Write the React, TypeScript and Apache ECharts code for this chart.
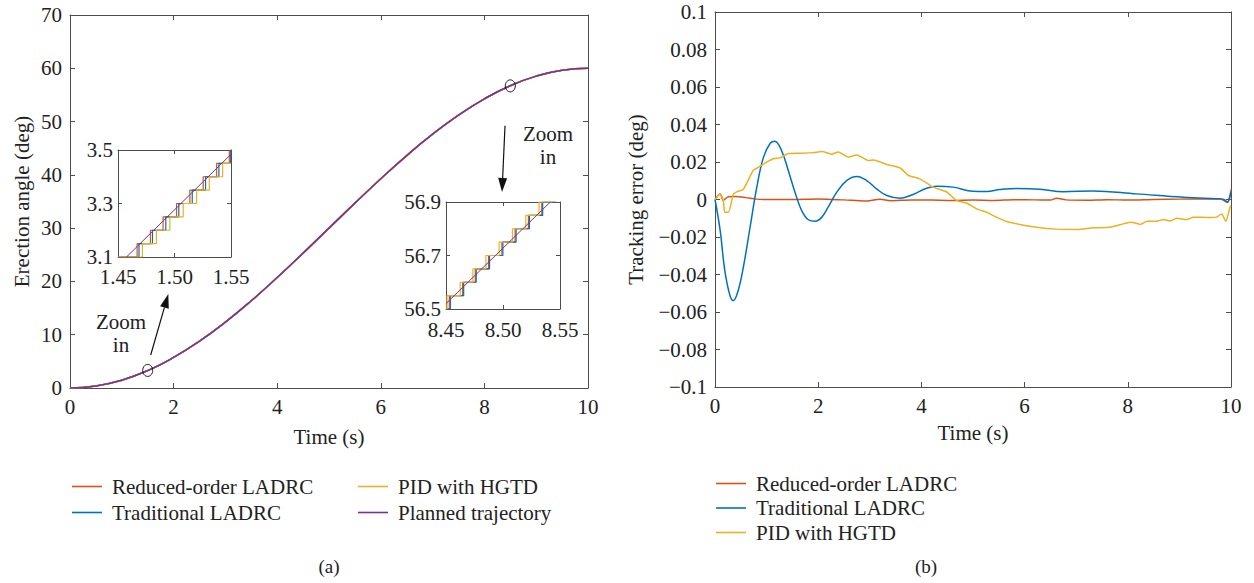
import React, { useEffect, useRef } from 'react';
import * as echarts from 'echarts';

const FONT = '"Liberation Serif", "DejaVu Serif", serif';
const AX = '#4d4d4d';
const TXT = '#222';
const FS = 21;

const C_RED = '#D95319';
const C_BLUE = '#0072BD';
const C_YEL = '#EDB120';
const C_PUR = '#7E2F8E';

const NAMES = ['Reduced-order LADRC', 'Traditional LADRC', 'PID with HGTD', 'Planned trajectory'];

// Main angle plot
const mainTime = [0, 0.5, 1, 1.5, 2, 2.5, 3, 3.5, 4, 4.5, 5, 5.5, 6, 6.5, 7, 7.5, 8, 8.5, 9, 9.5, 10];
const plannedAngle = [0, 0.37, 1.47, 3.27, 5.73, 8.79, 12.37, 16.38, 20.73, 25.31, 30, 34.69, 39.27, 43.62, 47.63, 51.21, 54.27, 56.73, 58.53, 59.63, 60];
const reducedAngle = [0, 0.37, 1.47, 3.27, 5.73, 8.79, 12.37, 16.38, 20.73, 25.31, 30, 34.69, 39.27, 43.62, 47.63, 51.21, 54.27, 56.73, 58.53, 59.63, 60];
const traditionalAngle = [0, 0.37, 1.47, 3.27, 5.73, 8.79, 12.37, 16.38, 20.73, 25.31, 30, 34.69, 39.27, 43.62, 47.63, 51.21, 54.27, 56.73, 58.53, 59.63, 60];
const pidAngle = [0, 0.37, 1.47, 3.27, 5.73, 8.79, 12.37, 16.38, 20.73, 25.31, 30, 34.69, 39.27, 43.62, 47.63, 51.21, 54.27, 56.73, 58.53, 59.63, 60];

const mainXTicks = [0, 2, 4, 6, 8, 10];
const mainYTicks = [0, 10, 20, 30, 40, 50, 60, 70];

// Inset 1 (t 1.45-1.55)
const inset1XTicks = [1.45, 1.5, 1.55];
const inset1YTicks = [3.1, 3.3, 3.5];
const inset1Reduced = [[1.45, 3.1], [1.4669, 3.15], [1.4787, 3.2], [1.4899, 3.25], [1.5018, 3.3], [1.5136, 3.35], [1.5254, 3.4], [1.5373, 3.45], [1.5485, 3.5], [1.55, 3.5]];
const inset1Traditional = [[1.45, 3.1], [1.4686, 3.15], [1.4805, 3.2], [1.4923, 3.25], [1.5038, 3.3], [1.5157, 3.35], [1.5275, 3.4], [1.5393, 3.45], [1.5497, 3.5], [1.55, 3.5]];
const inset1Pid = [[1.45, 3.1], [1.4716, 3.15], [1.484, 3.2], [1.4959, 3.25], [1.5077, 3.3], [1.5195, 3.35], [1.5308, 3.4], [1.5426, 3.45], [1.55, 3.45]];
const inset1Planned = [[1.4575, 3.1], [1.55, 3.484]];

// Inset 2 (t 8.45-8.55)
const inset2XTicks = [8.45, 8.5, 8.55];
const inset2YTicks = [56.5, 56.7, 56.9];
const inset2Reduced = [[8.45, 56.5], [8.4529, 56.55], [8.4646, 56.6], [8.4757, 56.65], [8.4873, 56.7], [8.499, 56.75], [8.5106, 56.8], [8.5223, 56.85], [8.534, 56.9], [8.5457, 56.9]];
const inset2Traditional = [[8.45, 56.5], [8.4538, 56.55], [8.4655, 56.6], [8.4765, 56.65], [8.4882, 56.7], [8.4999, 56.75], [8.5115, 56.8], [8.5232, 56.85], [8.5348, 56.9], [8.5465, 56.9]];
const inset2Pid = [[8.45, 56.5], [8.4509, 56.55], [8.4625, 56.6], [8.4736, 56.65], [8.485, 56.7], [8.4966, 56.75], [8.5083, 56.8], [8.52, 56.85], [8.5316, 56.9], [8.5427, 56.9]];
const inset2Planned = [[8.45, 56.52], [8.5415, 56.9]];

// Tracking error plot
const errXTicks = [0, 2, 4, 6, 8, 10];
const errYTicks = [-0.1, -0.08, -0.06, -0.04, -0.02, 0, 0.02, 0.04, 0.06, 0.08, 0.1];
const reducedErr = [[0, 0], [0.1, 0.003], [0.16, -0.0005], [0.26, 0.0015], [0.4, 0.0016], [0.6, 0.001], [0.8, 0.0002], [1.0, 0], [1.5, 0], [2.0, 0.0003], [2.5, -0.0002], [2.9, -0.0008], [3.2, 0.0001], [3.4, -0.0006], [3.8, -0.0002], [4.2, -0.0003], [4.6, -0.0005], [5.0, -0.0003], [5.4, -0.0005], [5.8, -0.0001], [6.2, -0.0002], [6.5, -0.0003], [6.62, 0.0007], [6.8, -0.0002], [7.2, -0.0004], [7.6, -0.0001], [8.0, -0.0003], [8.5, 0], [9.0, 0.0002], [9.5, 0.0003], [9.8, 0.0002], [9.93, -0.0015], [9.97, 0.0005], [10, 0.0053]];
const traditionalErr = [[0, 0], [0.1, -0.0165], [0.19, -0.0379], [0.29, -0.0512], [0.355, -0.0539], [0.45, -0.0485], [0.55, -0.036], [0.68, -0.0148], [0.81, 0.0066], [0.94, 0.0226], [1.07, 0.03], [1.16, 0.0311], [1.29, 0.0261], [1.42, 0.0155], [1.55, 0.0039], [1.68, -0.0059], [1.81, -0.0108], [1.94, -0.0116], [2.07, -0.0094], [2.2, -0.0037], [2.36, 0.0039], [2.55, 0.0101], [2.75, 0.0123], [2.94, 0.0101], [3.13, 0.0057], [3.33, 0.0021], [3.59, 0.0007], [3.84, 0.0027], [4.1, 0.006], [4.3, 0.0071], [4.62, 0.0066], [5.0, 0.0044], [5.27, 0.0043], [5.52, 0.0053], [5.85, 0.0059], [6.3, 0.0055], [6.75, 0.0041], [7.33, 0.0046], [8.17, 0.003], [9.08, 0.0012], [9.72, 0.0004], [9.85, 0.0002], [9.93, -0.0014], [9.97, 0.001], [10, 0.004]];
const pidErr = [[0, 0], [0.1, 0.003], [0.16, -0.0005], [0.19, -0.0068], [0.26, -0.0068], [0.355, 0.0028], [0.42, 0.0041], [0.55, 0.0055], [0.74, 0.0155], [0.84, 0.0171], [1.0, 0.0199], [1.13, 0.0217], [1.26, 0.0222], [1.42, 0.0245], [1.65, 0.0247], [1.9, 0.025], [2.07, 0.0256], [2.26, 0.0242], [2.39, 0.0254], [2.58, 0.0226], [2.75, 0.0238], [2.97, 0.0208], [3.07, 0.0211], [3.33, 0.0187], [3.59, 0.0168], [3.75, 0.0128], [3.97, 0.011], [4.23, 0.0066], [4.49, 0.004], [4.68, -0.0005], [4.88, -0.002], [5.07, -0.005], [5.27, -0.0068], [5.39, -0.0086], [5.65, -0.0117], [5.91, -0.0133], [6.23, -0.0148], [6.62, -0.0158], [7.01, -0.016], [7.33, -0.0151], [7.65, -0.0148], [7.91, -0.013], [8.07, -0.0121], [8.24, -0.0133], [8.37, -0.0116], [8.56, -0.0116], [8.69, -0.0107], [8.82, -0.0114], [8.95, -0.01], [9.14, -0.0107], [9.27, -0.0094], [9.59, -0.0096], [9.72, -0.0094], [9.82, -0.0077], [9.9, -0.0117], [9.98, -0.0041], [10, -0.0032]];

const textStyle = { fontFamily: FONT, fontSize: FS, color: TXT };

function fmtErr(v: number) {
  const r = Math.round(v * 100) / 100;
  if (r === 0) return '0';
  return (r < 0 ? '\u2212' : '') + String(Math.abs(r));
}

function xPair(grid: number, min: number, max: number, ticks: number[], fmt: (v: number) => string, tickLen: number, margin: number, name?: string, nameGap?: number) {
  const base = {
    gridIndex: grid,
    type: 'value',
    min,
    max,
    z: 3,
    splitLine: { show: false },
    axisLine: { show: true, onZero: false, lineStyle: { color: AX, width: 1 } },
    axisTick: { show: true, inside: true, length: tickLen, customValues: ticks, lineStyle: { color: AX, width: 1 } },
  };
  return [
    {
      ...base,
      position: 'bottom',
      axisLabel: { show: true, customValues: ticks, formatter: fmt, margin, ...textStyle },
      name,
      nameLocation: 'middle',
      nameGap,
      nameTextStyle: textStyle,
    },
    { ...base, position: 'top', axisLabel: { show: false } },
  ];
}

function yPair(grid: number, min: number, max: number, ticks: number[], fmt: (v: number) => string, tickLen: number, margin: number, name?: string, nameGap?: number) {
  const base = {
    gridIndex: grid,
    type: 'value',
    min,
    max,
    z: 3,
    splitLine: { show: false },
    axisLine: { show: true, onZero: false, lineStyle: { color: AX, width: 1 } },
    axisTick: { show: true, inside: true, length: tickLen, customValues: ticks, lineStyle: { color: AX, width: 1 } },
  };
  return [
    {
      ...base,
      position: 'left',
      axisLabel: { show: true, customValues: ticks, formatter: fmt, margin, ...textStyle },
      name,
      nameLocation: 'middle',
      nameGap,
      nameRotate: 90,
      nameTextStyle: textStyle,
    },
    { ...base, position: 'right', axisLabel: { show: false } },
  ];
}

function lineSeries(name: string, color: string, xi: number, data: any, opts: any = {}) {
  return {
    type: 'line',
    name,
    xAxisIndex: xi,
    yAxisIndex: xi,
    data,
    symbol: 'none',
    showSymbol: false,
    lineStyle: { color, width: 1.5 },
    itemStyle: { color },
    emphasis: { disabled: true },
    ...opts,
  };
}

const zip = (xs: number[], ys: number[]) => xs.map((x, i) => [x, ys[i]]);

export default function App() {
  const ref = useRef<HTMLDivElement>(null);
  useEffect(() => {
    const chart = echarts.init(ref.current!, null, { renderer: 'svg' });
    const legendBase = {
      orient: 'vertical',
      icon: 'rect',
      itemWidth: 30,
      itemHeight: 1.6,
      padding: 0,
      selectedMode: false,
      textStyle: { ...textStyle, lineHeight: 20, padding: [0, 0, 0, 5] },
    };
    const option: any = {
      animation: false,
      backgroundColor: '#fff',
      grid: [
        { left: 70, top: 15, width: 518, height: 373 },
        { left: 118, top: 150, width: 113, height: 107 },
        { left: 446, top: 202, width: 114, height: 107 },
        { left: 715, top: 12, width: 516, height: 375 },
      ],
      xAxis: [
        ...xPair(0, 0, 10, mainXTicks, (v) => String(v), 5, 8, 'Time (s)', 38),
        ...xPair(1, 1.45, 1.55, inset1XTicks, (v) => v.toFixed(2), 4, 9),
        ...xPair(2, 8.45, 8.55, inset2XTicks, (v) => v.toFixed(2), 4, 10),
        ...xPair(3, 0, 10, errXTicks, (v) => String(v), 5, 8, 'Time (s)', 35),
      ],
      yAxis: [
        ...yPair(0, 0, 70, mainYTicks, (v) => String(v), 5, 8, 'Erection angle (deg)', 38),
        ...yPair(1, 3.1, 3.5, inset1YTicks, (v) => v.toFixed(1), 4, 5),
        ...yPair(2, 56.5, 56.9, inset2YTicks, (v) => v.toFixed(1), 4, 5),
        ...yPair(3, -0.1, 0.1, errYTicks, fmtErr, 5, 8, 'Tracking error (deg)', 69),
      ],
      legend: [
        { ...legendBase, left: 72, top: 476, itemGap: 5, data: [NAMES[0], NAMES[1]] },
        { ...legendBase, left: 358, top: 476, itemGap: 5, data: [NAMES[2], NAMES[3]] },
        { ...legendBase, left: 716, top: 473, itemGap: 3.5, data: [NAMES[0], NAMES[1], NAMES[2]] },
      ],
      series: [
        lineSeries(NAMES[0], C_RED, 0, zip(mainTime, reducedAngle), { smooth: true }),
        lineSeries(NAMES[1], C_BLUE, 0, zip(mainTime, traditionalAngle), { smooth: true }),
        lineSeries(NAMES[2], C_YEL, 0, zip(mainTime, pidAngle), { smooth: true }),
        lineSeries(NAMES[3], C_PUR, 0, zip(mainTime, plannedAngle), { smooth: true }),

        lineSeries(NAMES[0], C_RED, 2, inset1Reduced, { step: 'end', lineStyle: { color: C_RED, width: 1.2 } }),
        lineSeries(NAMES[1], C_BLUE, 2, inset1Traditional, { step: 'end', lineStyle: { color: C_BLUE, width: 1.2 } }),
        lineSeries(NAMES[2], C_YEL, 2, inset1Pid, { step: 'end', lineStyle: { color: C_YEL, width: 1.2 } }),
        lineSeries(NAMES[3], C_PUR, 2, inset1Planned, { lineStyle: { color: C_PUR, width: 1 } }),

        lineSeries(NAMES[0], C_RED, 4, inset2Reduced, { step: 'end', lineStyle: { color: C_RED, width: 1.2 } }),
        lineSeries(NAMES[1], C_BLUE, 4, inset2Traditional, { step: 'end', lineStyle: { color: C_BLUE, width: 1.2 } }),
        lineSeries(NAMES[2], C_YEL, 4, inset2Pid, { step: 'end', lineStyle: { color: C_YEL, width: 1.2 } }),
        lineSeries(NAMES[3], C_PUR, 4, inset2Planned, { lineStyle: { color: C_PUR, width: 1 } }),

        lineSeries(NAMES[0], C_RED, 6, reducedErr, { smooth: 0.3 }),
        lineSeries(NAMES[1], C_BLUE, 6, traditionalErr, { smooth: 0.4 }),
        lineSeries(NAMES[2], C_YEL, 6, pidErr, { smooth: 0.2 }),
      ],
    };
    chart.setOption(option);

    const px = (pt: number[]) => chart.convertToPixel({ xAxisIndex: 0, yAxisIndex: 0 }, pt) as number[];
    const arrow = (tail: number[], tip: number[]) => {
      const a = px(tail);
      const b = px(tip);
      const dx = b[0] - a[0];
      const dy = b[1] - a[1];
      const len = Math.hypot(dx, dy);
      const ux = dx / len;
      const uy = dy / len;
      const hl = 14;
      const hw = 4.5;
      const bx = b[0] - ux * hl;
      const by = b[1] - uy * hl;
      return [
        { type: 'line', shape: { x1: a[0], y1: a[1], x2: bx, y2: by }, style: { stroke: '#111', lineWidth: 1.2 }, z: 10 },
        {
          type: 'polygon',
          shape: { points: [[b[0], b[1]], [bx - uy * hw, by + ux * hw], [bx + uy * hw, by - ux * hw]] },
          style: { fill: '#111' },
          z: 10,
        },
      ];
    };
    const c1 = px([1.5, 3.3]);
    const c2 = px([8.5, 56.7]);
    const t1 = px([0.985, 10.3]);
    const t2 = px([9.228, 45.6]);
    chart.setOption({
      graphic: [
        { type: 'ellipse', shape: { cx: c1[0], cy: c1[1], rx: 5, ry: 6 }, style: { fill: 'none', stroke: '#111', lineWidth: 1 }, z: 10 },
        { type: 'ellipse', shape: { cx: c2[0], cy: c2[1], rx: 5, ry: 6 }, style: { fill: 'none', stroke: '#111', lineWidth: 1 }, z: 10 },
        ...arrow([1.558, 6.19], [1.898, 17.64]),
        ...arrow([8.398, 49.2], [8.34, 36.78]),
        { type: 'text', x: t1[0], y: t1[1], style: { text: 'Zoom\nin', fontFamily: FONT, fontSize: FS, fill: TXT, align: 'center', verticalAlign: 'middle', lineHeight: 23 }, z: 10 },
        { type: 'text', x: t2[0], y: t2[1], style: { text: 'Zoom\nin', fontFamily: FONT, fontSize: FS, fill: TXT, align: 'center', verticalAlign: 'middle', lineHeight: 23 }, z: 10 },
        { type: 'text', x: 329, y: 566, style: { text: '(a)', fontFamily: FONT, fontSize: FS - 2, fill: TXT, align: 'center', verticalAlign: 'middle' } },
        { type: 'text', x: 926, y: 566, style: { text: '(b)', fontFamily: FONT, fontSize: FS - 2, fill: TXT, align: 'center', verticalAlign: 'middle' } },
      ],
    });
    return () => chart.dispose();
  }, []);
  return <div ref={ref} style={{ position: 'fixed', left: 0, top: 0, width: 1254, height: 583, background: '#fff' }} />;
}
